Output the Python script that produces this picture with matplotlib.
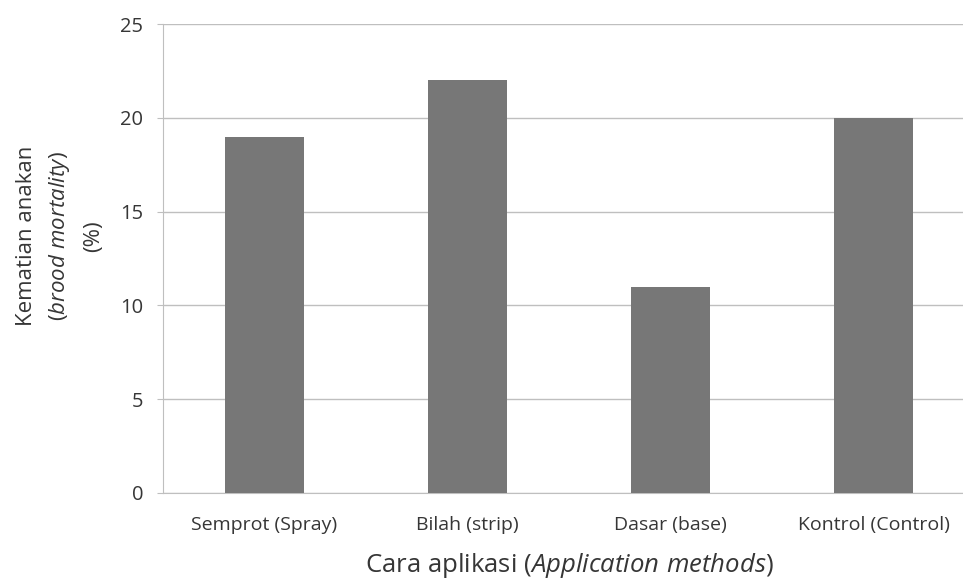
import matplotlib
matplotlib.use("Agg")
import matplotlib.pyplot as plt

plt.rcParams['font.family'] = ['Open Sans', 'DejaVu Sans']
plt.rcParams['mathtext.fontset'] = 'custom'
plt.rcParams['mathtext.rm'] = 'Open Sans'
plt.rcParams['mathtext.it'] = 'Open Sans:italic'

categories = ['Semprot (Spray)', 'Bilah (strip)', 'Dasar (base)', 'Kontrol (Control)']
values = [19, 22, 11, 20]
yticks = [0, 5, 10, 15, 20, 25]

txt = '#363636'
grid = '#bfbfbf'

fig = plt.figure(figsize=(9.63, 5.79), dpi=100)
ax = fig.add_axes([163 / 963, 1 - 493 / 579, 812 / 963, (493 - 24) / 579])

x = range(len(categories))
ax.bar(x, values, width=0.39, color='#777777', zorder=3)

ax.set_xlim(-0.5, len(categories) - 0.5)
ax.set_ylim(0, 25)
ax.set_yticks(yticks)
ax.set_xticks(list(x))
ax.set_xticklabels(categories, fontsize=14, color=txt)
ax.tick_params(axis='y', labelsize=14.5, labelcolor=txt, length=4.3, color=grid, pad=10)
ax.tick_params(axis='x', length=0, pad=16.5)
ax.grid(axis='y', color=grid, linewidth=1, zorder=0)

for s in ['top', 'right']:
    ax.spines[s].set_visible(False)
ax.spines['left'].set_color(grid)
ax.spines['bottom'].set_color(grid)

ax.set_xlabel(r'Cara aplikasi ($\mathit{Application\ methods}$)', fontsize=18.5, color=txt, labelpad=12)

# three-line y label, middle line partly italic
fig.text(27 / 963, 1 - 236 / 579, 'Kematian anakan', rotation=90, ha='center', va='center', fontsize=16, color=txt)
fig.text(60 / 963, 1 - 236 / 579, r'($\mathit{brood\ mortality}$)', rotation=90, ha='center', va='center', fontsize=16, color=txt)
fig.text(94 / 963, 1 - 236 / 579, '(%)', rotation=90, ha='center', va='center', fontsize=16, color=txt)

fig.savefig('out.png', dpi=100)
